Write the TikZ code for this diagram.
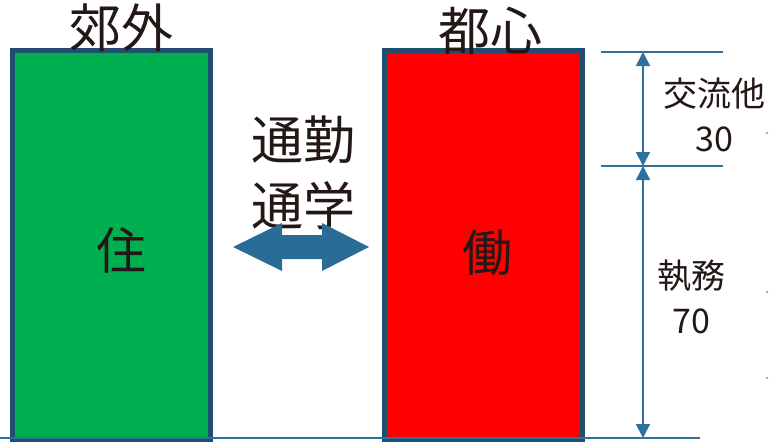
\documentclass[tikz,border=0pt]{standalone}
\usepackage{fontspec}
\setmainfont{Noto Sans CJK JP}
\usetikzlibrary{arrows.meta}
\definecolor{edge}{RGB}{31,78,110}
\definecolor{boxgreen}{RGB}{0,176,80}
\definecolor{boxred}{RGB}{255,0,0}
\definecolor{dim}{RGB}{46,112,160}
\definecolor{arr}{RGB}{41,108,150}
\definecolor{ink}{RGB}{35,24,21}
\tikzset{
  zone/.style={draw=edge,line width=5pt,minimum width=198pt,minimum height=389pt,inner sep=0pt,anchor=center},
  bigtxt/.style={text=ink,font=\fontsize{52}{56}\selectfont,inner sep=0pt},
  midtxt/.style={text=ink,font=\fontsize{52}{66}\selectfont,inner sep=0pt,align=center},
  smalltxt/.style={text=ink,font=\fontsize{34}{45}\selectfont,inner sep=0pt,align=center},
  dimline/.style={draw=dim,line width=1.6pt},
  dimarrow/.style={draw=dim,line width=1.6pt,{Triangle[width=14pt,length=14pt]}-{Triangle[width=14pt,length=14pt]}},
}
\begin{document}
\begin{tikzpicture}[x=1pt,y=-1pt]
\useasboundingbox (0,0) rectangle (769,445);
% boxes
\node[zone,fill=boxgreen] (sub) at (111.5,245) {};
\node[zone,fill=boxred] (cen) at (483.5,245) {};
% base line
\coordinate (b0) at (0,438);
\coordinate (b1) at (700,438);
\draw[dimline] (b0) -- (b1);
% titles
\node[bigtxt] (t1) at (121,28) {郊外};
\node[bigtxt] (t2) at (490,31) {都心};
\node[bigtxt,font=\fontsize{50}{54}\selectfont] (l1) at (121,250) {住};
\node[bigtxt,font=\fontsize{50}{54}\selectfont] (l2) at (487,253) {働};
% commute label
\node[midtxt] (comm) at (303,173) {通勤\\通学};
% block double arrow
\fill[arr] (233,247) -- (282,223) -- (282,235) -- (322,235) -- (322,223) -- (369,247)
  -- (322,271) -- (322,259) -- (282,259) -- (282,271) -- cycle;
% dimension lines
\coordinate (d0a) at (601,52); \coordinate (d0b) at (723,52);
\coordinate (d1a) at (601,166); \coordinate (d1b) at (723,166);
\draw[dimline] (d0a) -- (d0b);
\draw[dimline] (d1a) -- (d1b);
\coordinate (v0) at (643,52);
\coordinate (v1) at (643,166);
\coordinate (v2) at (643,438);
\draw[dimarrow] (v0) -- (v1);
\draw[dimarrow] (v1) -- (v2);
\node[smalltxt] (k1) at (714,115) {交流他\\30};
\node[smalltxt] (k2) at (691,297) {執務\\70};
% edge dots
\fill[gray!70] (767,133) circle (1.3);
\fill[gray!70] (767,292) circle (1.3);
\fill[gray!70] (767,378) circle (1.3);
\end{tikzpicture}
\end{document}
